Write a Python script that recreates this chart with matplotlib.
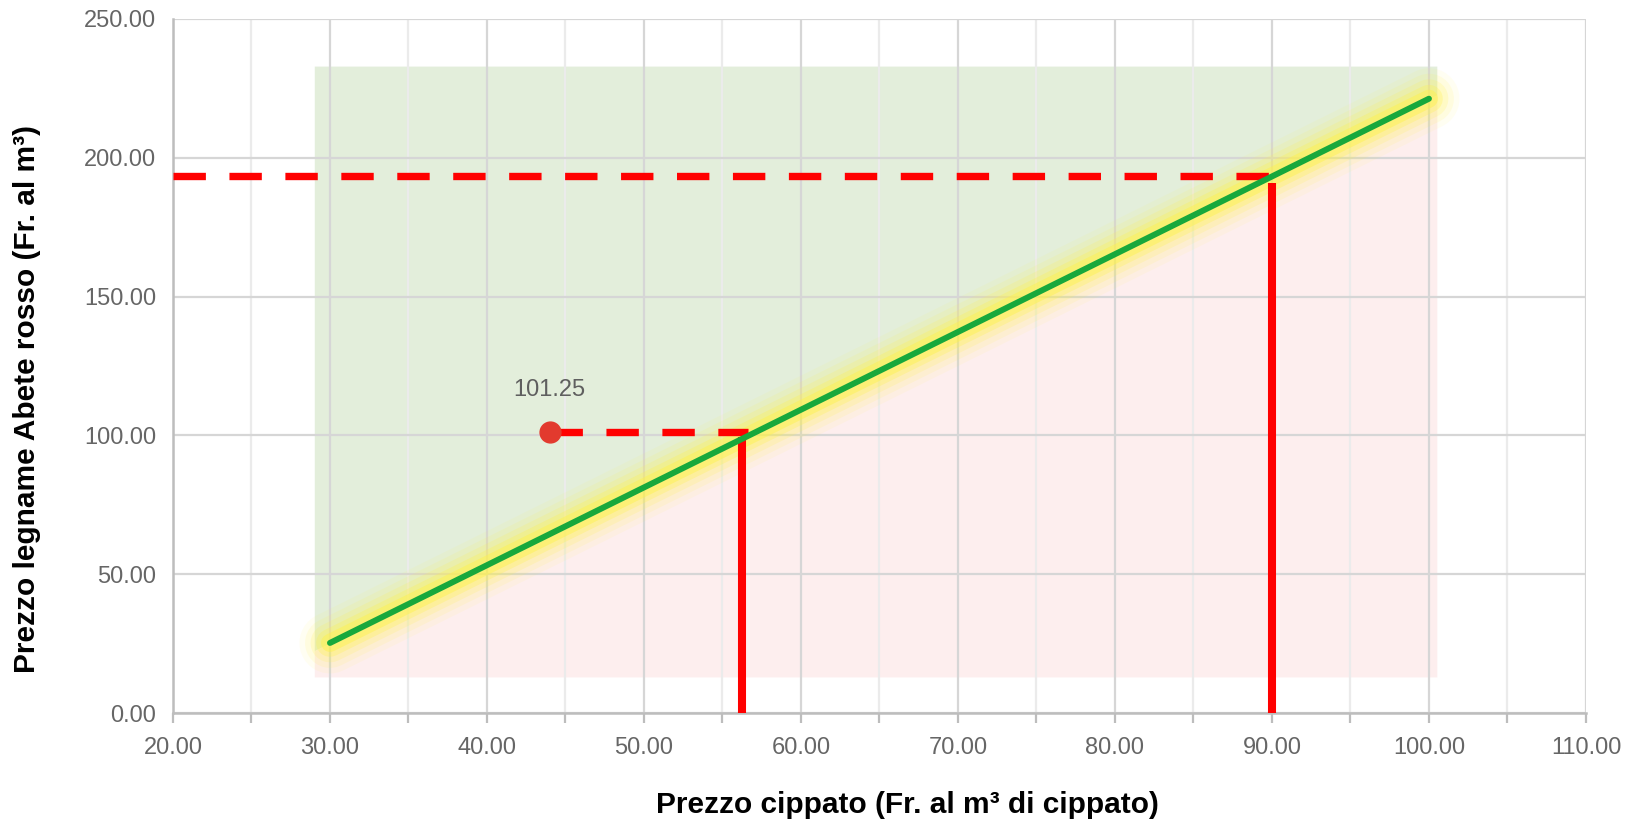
import numpy as np
import matplotlib.pyplot as plt
from matplotlib.ticker import MultipleLocator, FormatStrFormatter

plt.rcParams['font.family'] = ['Liberation Sans', 'DejaVu Sans']

# data
line_x = [30, 100]
line_y = [25.25, 221.25]

point_x = 44
point_y = 101.25
point_label = "101.25"

# red guide lines (x0, x1, y) and (x, y0, y1)
guide_h = [(20, 90, 193.5), (44, 56.6, 101.25)]
guide_v = [(90, 0, 191), (56.25, 0, 99.5)]

# shaded zones
zone_x = [29, 100.5]
zone_top = 233
zone_bottom = 13

fig = plt.figure(figsize=(16.35, 8.21), dpi=100)
ax = fig.add_axes([0.1058, 0.1315, 0.8642, 0.8455])
ax.set_xlim(20, 110)
ax.set_ylim(0, 250)

# zones above / below the line
slope = (line_y[1] - line_y[0]) / (line_x[1] - line_x[0])
zx = np.array(zone_x)
zl = line_y[0] + slope * (zx - line_x[0])
ax.fill_between(zx, zl, zone_top, color='#e3eedb', lw=0, zorder=1)
ax.fill_between(zx, zone_bottom, zl, color='#fdeeee', lw=0, zorder=1)

# grid
ax.xaxis.set_major_locator(MultipleLocator(10))
ax.xaxis.set_minor_locator(MultipleLocator(5))
ax.yaxis.set_major_locator(MultipleLocator(50))
ax.xaxis.set_major_formatter(FormatStrFormatter('%.2f'))
ax.yaxis.set_major_formatter(FormatStrFormatter('%.2f'))
ax.grid(True, which='major', color='#d6d6d6', lw=1.6, zorder=2)
ax.grid(True, which='minor', axis='x', color='#ebebeb', lw=1.6, zorder=2)
ax.set_axisbelow(False)

for s in ['top', 'right']:
    ax.spines[s].set_visible(False)
for s in ['left', 'bottom']:
    ax.spines[s].set_color('#bdbdbd')
    ax.spines[s].set_linewidth(1.8)
    ax.spines[s].set_zorder(3)

ax.tick_params(axis='both', which='both', colors='#bdbdbd', labelcolor='#666666',
               labelsize=17, width=1.6)
ax.tick_params(axis='x', which='both', length=7, pad=10)
ax.tick_params(axis='y', length=0, pad=12)

# yellow glow along the line
for w, a in [(44, 0.07), (36, 0.11), (28, 0.17), (20, 0.27), (13, 0.45)]:
    ax.plot(line_x, line_y, color='#fff24a', lw=w, alpha=a,
            solid_capstyle='round', zorder=4)

# red guides
for x0, x1, y in guide_h:
    ax.plot([x0, x1], [y, y], color='#ff0000', lw=5.3, ls=(0, (4.4, 3.2)),
            dash_capstyle='butt', zorder=5)
for x, y0, y1 in guide_v:
    ax.plot([x, x], [y0, y1], color='#ff0000', lw=5.8, solid_capstyle='butt',
            zorder=5, clip_on=False)

# main line
ax.plot(line_x, line_y, color='#18a83c', lw=4.3, solid_capstyle='round', zorder=6)

# point and label
ax.plot(point_x, point_y, 'o', color='#e23a2e', ms=15, zorder=7)
ax.annotate(point_label, (point_x, point_y), xytext=(0, 22), textcoords='offset points',
            ha='center', va='bottom', fontsize=17, color='#5f5f5f', zorder=7)

ax.set_xlabel('Prezzo cippato (Fr. al m³ di cippato)', fontsize=21.5,
              fontweight='bold', va='center')
ax.set_ylabel('Prezzo legname Abete rosso (Fr. al m³)', fontsize=21.5,
              fontweight='bold', va='center')
ax.xaxis.set_label_coords(0.52, -0.1326)
ax.yaxis.set_label_coords(-0.103, 0.452)

fig.savefig('out.png', dpi=100)
